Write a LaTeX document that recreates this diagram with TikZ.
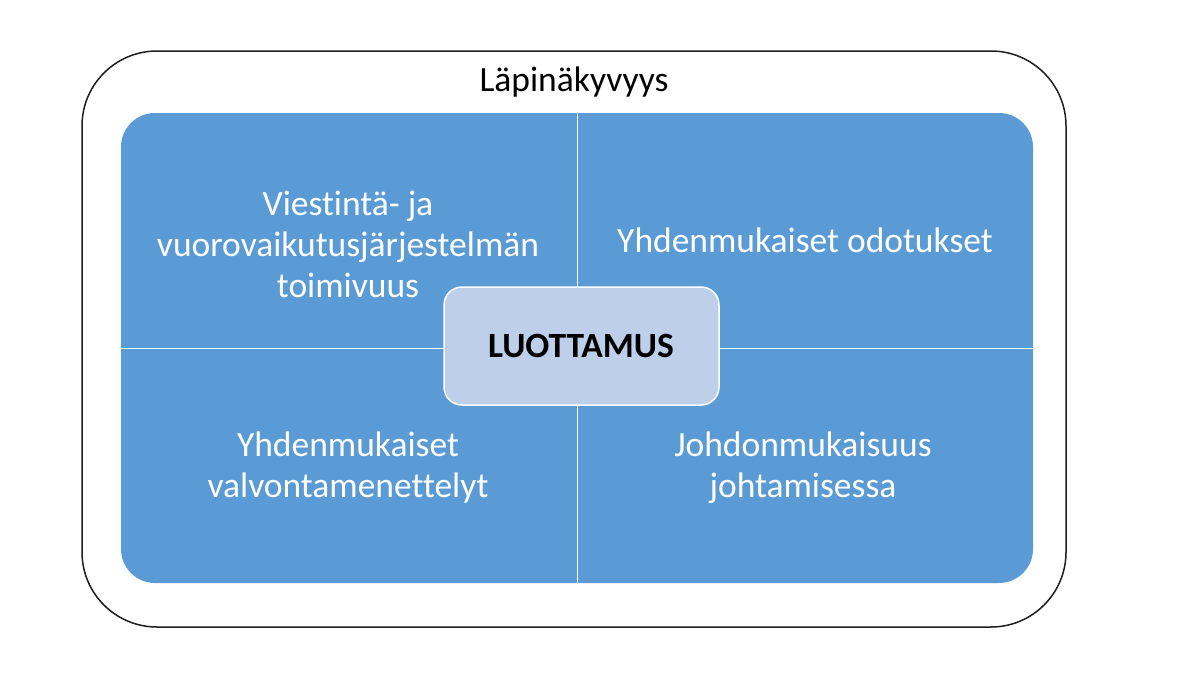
\documentclass[tikz,border=0pt]{standalone}
\usepackage{fontspec}
\setmainfont[Ligatures={NoCommon}]{Carlito}
\definecolor{lapicolor0000}{RGB}{255,255,255}
\definecolor{lapicolor0001}{RGB}{30,30,30}
\definecolor{lapicolor0002}{RGB}{91,155,213}
\definecolor{lapicolor0003}{RGB}{189,207,233}
\begin{document}
\begin{tikzpicture}[yscale=-1
,pstyle1/.style={color=lapicolor0001,line width=1.5pt}
,pstyle2/.style={color=lapicolor0000,line width=1.0pt}
,pstyle3/.style={color=lapicolor0000,fill=lapicolor0003,line width=1.5pt}
,qtext/.style={align=center,color=white,font=\fontsize{35.5pt}{41pt}\selectfont}
]
\useasboundingbox (0pt,0pt) rectangle (1199pt,675pt);
\draw[pstyle1,rounded corners=75pt] (82pt,51pt) rectangle (1066pt,627pt);
\node (lapi) at (574pt,82pt)[color=black,font=\fontsize{35.5pt}{41pt}\selectfont]{Läpinäkyvyys};
\fill[lapicolor0002,rounded corners=34pt] (121pt,113pt) rectangle (1033pt,583pt);
\draw[pstyle2] (577pt,113pt) -- (577pt,583pt);
\draw[pstyle2] (121pt,348pt) -- (1033pt,348pt);
\node (viestinta) at (348pt,244pt)[qtext]{Viestintä- ja\\vuorovaikutusjärjestelmän\\toimivuus};
\node (odotukset) at (805pt,240pt)[qtext]{Yhdenmukaiset odotukset};
\node (valvonta) at (348pt,468pt)[qtext]{Yhdenmukaiset\\valvontamenettelyt};
\node (johtaminen) at (803pt,468pt)[qtext]{Johdonmukaisuus\\johtamisessa};
\draw[pstyle3,rounded corners=18pt] (444pt,287pt) rectangle (719pt,405pt);
\node (luottamus) at (581pt,346pt)[color=black,font=\fontsize{35.5pt}{41pt}\selectfont\bfseries]{LUOTTAMUS};
\end{tikzpicture}
\end{document}
